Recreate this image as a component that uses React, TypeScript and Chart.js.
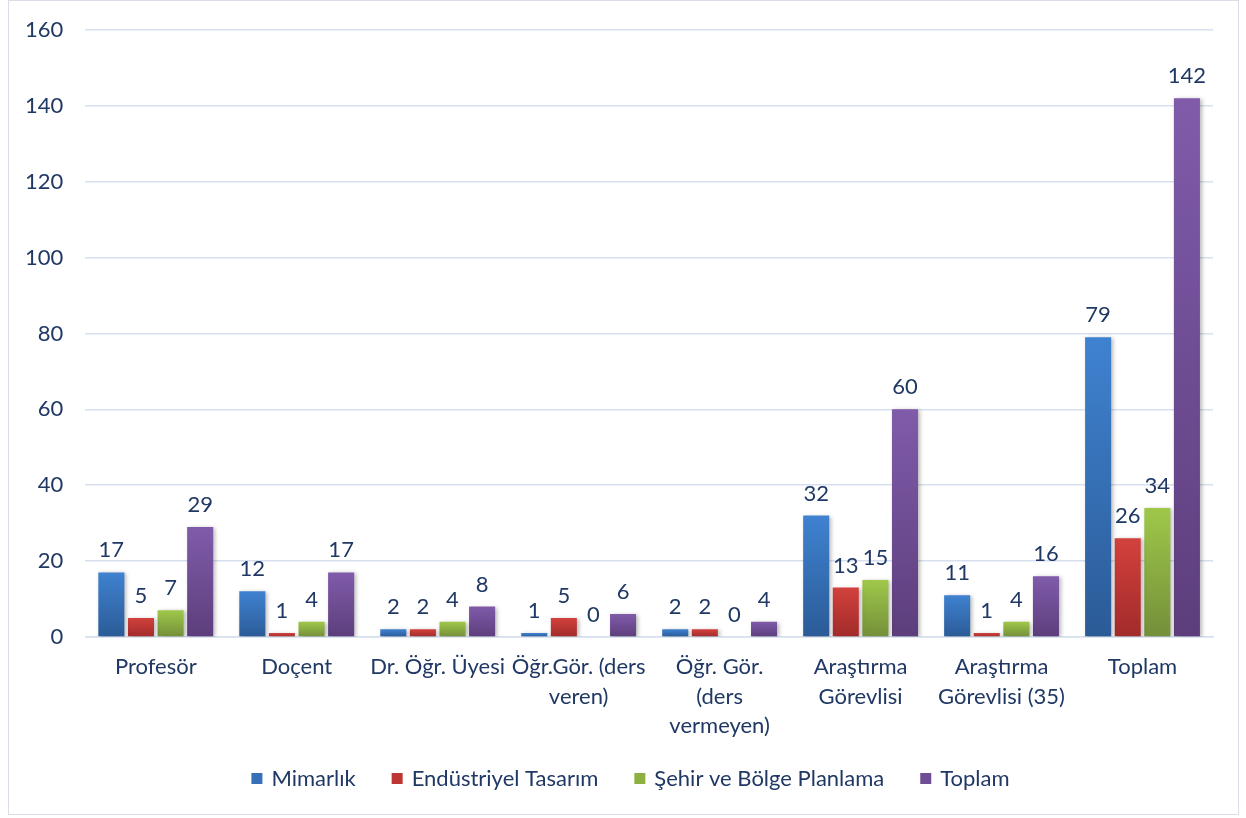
import React, { useEffect, useRef } from "react";
import { Chart, registerables } from "chart.js";

Chart.register(...registerables);

const categories: (string | string[])[] = [
  "Profesör",
  "Doçent",
  "Dr. Öğr. Üyesi",
  ["Öğr.Gör. (ders", "veren)"],
  ["Öğr. Gör.", "(ders", "vermeyen)"],
  ["Araştırma", "Görevlisi"],
  ["Araştırma", "Görevlisi (35)"],
  "Toplam",
];

const seriesNames = ["Mimarlık", "Endüstriyel Tasarım", "Şehir ve Bölge Planlama", "Toplam"];
const mimarlik = [17, 12, 2, 1, 2, 32, 11, 79];
const endustriyel = [5, 1, 2, 5, 2, 13, 1, 26];
const sehir = [7, 4, 4, 0, 0, 15, 4, 34];
const toplam = [29, 17, 8, 6, 4, 60, 16, 142];

const yTicksMax = 160;
const yTicksStep = 20;

const palette = [
  { top: "#3F82D0", bottom: "#2B5B97", mid: "#3670B8" },
  { top: "#D2413D", bottom: "#A12B2A", mid: "#BE3633" },
  { top: "#9FC84A", bottom: "#748F39", mid: "#8DB141" },
  { top: "#805BAA", bottom: "#5D3E7C", mid: "#6F4E96" },
];

const TEXT = "#203864";
const FONT = "Lato, 'Open Sans', sans-serif";
const FS = 22;

function gradientFor(i: number) {
  return (ctx: any) => {
    const c = palette[i];
    const chart = ctx.chart;
    if (!chart.chartArea || ctx.type !== "data") return c.mid;
    const y = chart.scales.y;
    const top = y.getPixelForValue(ctx.raw);
    const bottom = y.getPixelForValue(0);
    if (bottom - top < 1) return c.mid;
    const g = chart.ctx.createLinearGradient(0, top, 0, bottom);
    g.addColorStop(0, c.top);
    g.addColorStop(1, c.bottom);
    return g;
  };
}

const shadowPlugin = {
  id: "barShadow",
  beforeDatasetDraw(chart: any) {
    const ctx = chart.ctx;
    ctx.save();
    ctx.shadowColor = "rgba(0,0,0,0.28)";
    ctx.shadowBlur = 4;
    ctx.shadowOffsetX = 2;
    ctx.shadowOffsetY = 1;
  },
  afterDatasetDraw(chart: any) {
    chart.ctx.restore();
  },
};

const labelPlugin = {
  id: "valueLabels",
  afterDatasetsDraw(chart: any) {
    const ctx = chart.ctx;
    ctx.save();
    ctx.font = `${FS}px ${FONT}`;
    ctx.fillStyle = TEXT;
    ctx.textAlign = "center";
    ctx.textBaseline = "alphabetic";
    chart.data.datasets.forEach((ds: any, i: number) => {
      const meta = chart.getDatasetMeta(i);
      meta.data.forEach((el: any, j: number) => {
        ctx.fillText(String(ds.data[j]), el.x, el.y - 15);
      });
    });
    ctx.restore();
  },
};

const legendPlugin = {
  id: "bottomLegend",
  afterDraw(chart: any) {
    const ctx = chart.ctx;
    ctx.save();
    ctx.font = `${FS}px ${FONT}`;
    const box = 11;
    const gap = 9;
    const spacing = 36;
    const items = chart.data.datasets.map((ds: any, i: number) => ({
      text: ds.label,
      color: palette[i].mid,
      w: ctx.measureText(ds.label).width,
    }));
    const total =
      items.reduce((s: number, it: any) => s + box + gap + it.w, 0) + spacing * (items.length - 1);
    let x = chart.width / 2 + 7 - total / 2;
    const y = chart.height - 35.5;
    ctx.textBaseline = "middle";
    ctx.textAlign = "left";
    items.forEach((it: any) => {
      ctx.fillStyle = it.color;
      ctx.fillRect(x, y - box / 2, box, box);
      ctx.fillStyle = TEXT;
      ctx.fillText(it.text, x + box + gap, y);
      x += box + gap + it.w + spacing;
    });
    ctx.restore();
  },
};

export default function App() {
  const ref = useRef<HTMLCanvasElement | null>(null);

  useEffect(() => {
    if (!ref.current) return;
    const all = [mimarlik, endustriyel, sehir, toplam];
    const chart = new Chart(ref.current, {
      type: "bar",
      data: {
        labels: categories,
        datasets: all.map((d, i) => ({
          label: seriesNames[i],
          data: d,
          backgroundColor: gradientFor(i),
          borderWidth: 0,
          categoryPercentage: 0.84,
          barPercentage: 0.88,
        })),
      },
      options: {
        animation: false,
        responsive: true,
        maintainAspectRatio: false,
        layout: { padding: { left: -6, right: 25, top: 29, bottom: 66 } },
        scales: {
          x: {
            grid: { display: false },
            border: { display: true, color: "#D6E0EF", width: 1.5 },
            ticks: {
              color: TEXT,
              font: { family: FONT, size: FS, lineHeight: 1.32 },
              padding: 8,
              maxRotation: 0,
              autoSkip: false,
            },
          },
          y: {
            min: 0,
            max: yTicksMax,
            grid: { color: "#D6E0EF", lineWidth: 1.5, drawTicks: false },
            border: { display: false },
            afterFit: (s: any) => {
              s.paddingTop = 0;
              s.paddingBottom = 0;
            },
            ticks: {
              stepSize: yTicksStep,
              color: TEXT,
              font: { family: FONT, size: FS },
              padding: 22,
            },
          },
        },
        plugins: {
          legend: { display: false },
          tooltip: { enabled: false },
        },
      },
      plugins: [shadowPlugin, labelPlugin, legendPlugin],
    });
    return () => chart.destroy();
  }, []);

  return (
    <div
      style={{
        position: "absolute",
        left: 8,
        top: 0,
        width: 1231,
        height: 815,
        border: "1.5px solid #D9DEE8",
        boxSizing: "border-box",
        background: "#fff",
      }}
    >
      <div style={{ position: "absolute", left: 0, top: 0, right: 0, bottom: 0 }}>
        <canvas ref={ref} />
      </div>
    </div>
  );
}
